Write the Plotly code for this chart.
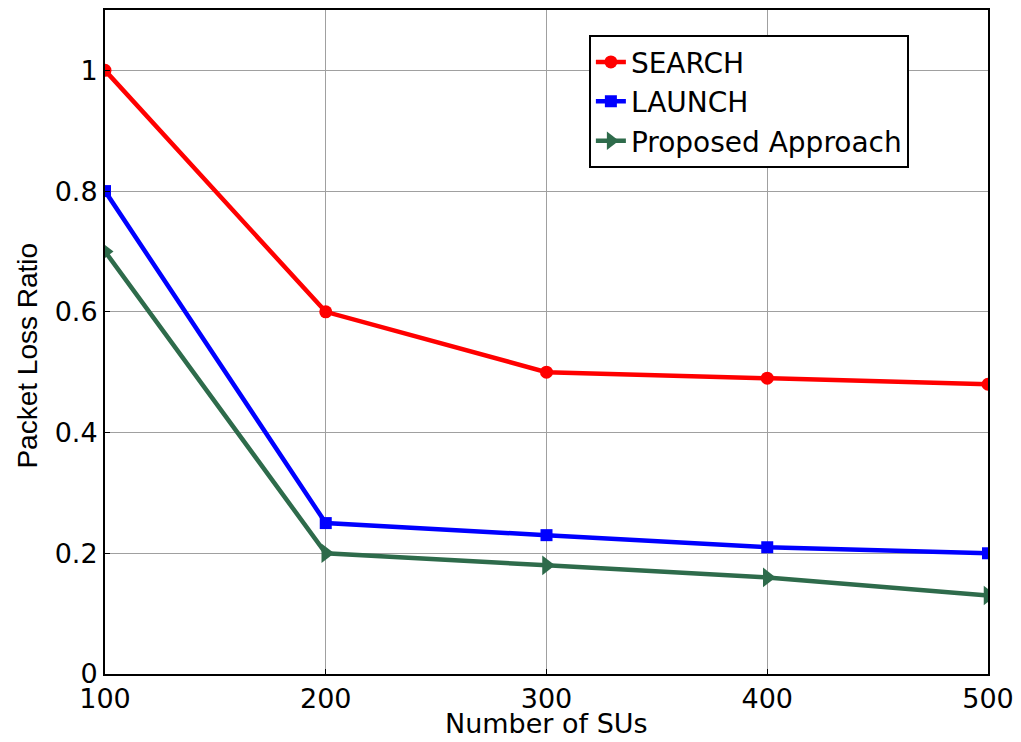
import plotly.graph_objects as go

x_sus = [100, 200, 300, 400, 500]
search = [1.0, 0.6, 0.5, 0.49, 0.48]
launch = [0.8, 0.25, 0.23, 0.21, 0.20]
proposed = [0.7, 0.2, 0.18, 0.16, 0.13]

x_ticks = [100, 200, 300, 400, 500]
y_ticks = [0, 0.2, 0.4, 0.6, 0.8, 1.0]
y_tick_labels = ["0", "0.2", "0.4", "0.6", "0.8", "1"]

FONT = "DejaVu Sans"

fig = go.Figure()
fig.add_trace(go.Scatter(x=x_sus, y=search, name="SEARCH", mode="lines+markers",
                         line=dict(color="#FF0000", width=4.5),
                         marker=dict(symbol="circle", size=13, color="#FF0000")))
fig.add_trace(go.Scatter(x=x_sus, y=launch, name="LAUNCH", mode="lines+markers",
                         line=dict(color="#0000FF", width=4.5),
                         marker=dict(symbol="square", size=12, color="#0000FF")))
fig.add_trace(go.Scatter(x=x_sus, y=proposed, name="Proposed Approach", mode="lines+markers",
                         line=dict(color="#2E6B4B", width=4.5),
                         marker=dict(symbol="triangle-right", size=17, color="#2E6B4B")))

axis_common = dict(showline=True, linecolor="black", linewidth=2, mirror=True,
                   showgrid=True, gridcolor="#A0A0A0", gridwidth=1,
                   ticks="inside", ticklen=5, tickcolor="black",
                   tickfont=dict(family=FONT, size=27, color="black"),
                   zeroline=False, automargin=False)

fig.update_xaxes(range=[100, 500], tickvals=x_ticks, **axis_common)
fig.update_yaxes(range=[0, 1.1], tickvals=y_ticks, ticktext=y_tick_labels, **axis_common)

fig.add_annotation(text="Number of SUs", xref="paper", yref="paper",
                   x=0.5, y=-0.074, xanchor="center", yanchor="middle", showarrow=False,
                   font=dict(family=FONT, size=27, color="black"))
fig.add_annotation(text="Packet Loss Ratio", xref="paper", yref="paper",
                   x=-0.088, y=0.48, xanchor="center", yanchor="middle", showarrow=False,
                   textangle=-90,
                   font=dict(family="Liberation Sans, Arial", size=28, color="black"))

fig.update_layout(
    width=1021, height=742,
    margin=dict(l=105, r=33, t=10, b=68),
    plot_bgcolor="white", paper_bgcolor="white",
    legend=dict(x=0.548, y=0.962, xanchor="left", yanchor="top",
                bordercolor="black", borderwidth=2, bgcolor="white",
                font=dict(family=FONT, size=28, color="black"),
                tracegroupgap=0, itemwidth=30),
)

fig.write_html("out.html")
